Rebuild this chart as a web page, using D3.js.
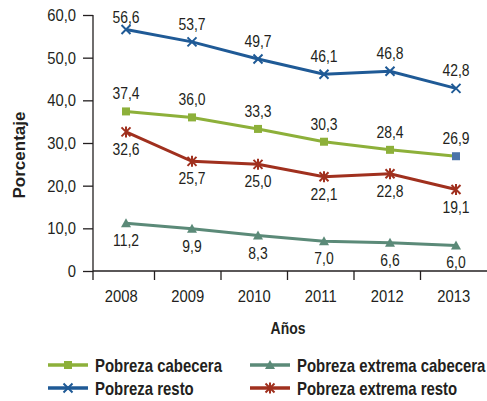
<!DOCTYPE html>
<html>
<head>
<meta charset="utf-8">
<script src="https://cdn.jsdelivr.net/npm/d3@7"></script>
<style>
  body { margin: 0; background: #fff; }
  svg { display: block; font-family: "Liberation Sans", Arial, sans-serif; }
</style>
</head>
<body>
<svg id="chart" width="487" height="401"></svg>
<script>
// data
var years = ["2008", "2009", "2010", "2011", "2012", "2013"];
var pobrezaCabecera = [37.4, 36.0, 33.3, 30.3, 28.4, 26.9];
var pobrezaResto = [56.6, 53.7, 49.7, 46.1, 46.8, 42.8];
var extremaCabecera = [11.2, 9.9, 8.3, 7.0, 6.6, 6.0];
var extremaResto = [32.6, 25.7, 25.0, 22.1, 22.8, 19.1];
var yTicks = [0, 10, 20, 30, 40, 50, 60];

var series = [
    { name: "Pobreza cabecera", values: pobrezaCabecera, color: "#8db03a", marker: "square", label: "above", col: 0, row: 0 },
    { name: "Pobreza extrema cabecera", values: extremaCabecera, color: "#5b8a78", marker: "triangle", label: "below", col: 1, row: 0 },
    { name: "Pobreza resto", values: pobrezaResto, color: "#1f5a96", marker: "cross", label: "above", col: 0, row: 1 },
    { name: "Pobreza extrema resto", values: extremaResto, color: "#a0301e", marker: "asterisk", label: "below", col: 1, row: 1 }
];

var svg = d3.select("#chart");
var textColor = "#231f20";
var fmt = function(v) { return v === 0 ? "0" : d3.format(".1f")(v).replace(".", ","); };

// no narrow font installed, so squeeze the text horizontally
function addText(parent, x, y, str, size, opts) {
    opts = opts || {};
    var sx = opts.sx || 0.87;
    return parent.append("text")
        .attr("transform", "translate(" + x + "," + y + ") scale(" + sx + ",1)")
        .attr("text-anchor", opts.anchor || "middle")
        .attr("font-size", size)
        .attr("font-weight", opts.bold ? "bold" : "normal")
        .attr("fill", textColor)
        .text(str);
}

// band scale for the axis, point scale for the marks
var xBand = d3.scaleBand().domain(years).range([88, 487]);
var x = d3.scalePoint().domain(years).range([126, 456]);
var y = d3.scaleLinear().domain([0, 60]).range([271, 15]);

// y axis
var yAxis = svg.append("g")
    .attr("transform", "translate(93,0)")
    .call(d3.axisLeft(y).tickValues(yTicks).tickFormat("").tickSize(10));
yAxis.select(".domain").attr("stroke", textColor).attr("stroke-width", 1.3).attr("d", "M0,15V271");
yAxis.selectAll(".tick line").attr("stroke", textColor).attr("stroke-width", 1.3);
yTicks.forEach(function(t) {
    addText(svg, 76, y(t) + 6, fmt(t), 17, { anchor: "end" });
});

// x axis line and ticks on band edges
svg.append("line")
    .attr("x1", 93).attr("x2", 487).attr("y1", 271).attr("y2", 271)
    .attr("stroke", textColor).attr("stroke-width", 1.3);
var edges = [93].concat(years.slice(1).map(function(d) { return xBand(d); }));
svg.selectAll(".xtick").data(edges).enter().append("line")
    .attr("x1", function(d) { return d; }).attr("x2", function(d) { return d; })
    .attr("y1", 271).attr("y2", 280)
    .attr("stroke", textColor).attr("stroke-width", 1.3);
years.forEach(function(d) {
    addText(svg, xBand(d) + xBand.bandwidth() / 2, 302, d, 17);
});

// axis titles
svg.append("text")
    .attr("transform", "translate(25,155) rotate(-90)")
    .attr("text-anchor", "middle")
    .attr("font-size", 17).attr("font-weight", "bold")
    .attr("fill", textColor)
    .text("Porcentaje");
addText(svg, 288, 334, "Años", 16, { bold: true });

function drawMarker(g, type, color) {
    if (type === "square") {
        g.append("rect").attr("x", -4).attr("y", -4).attr("width", 8).attr("height", 8).attr("fill", color);
    } else if (type === "triangle") {
        g.append("path").attr("d", "M0,-5L5,4L-5,4Z").attr("fill", color);
    } else if (type === "cross") {
        g.append("path").attr("d", "M-4.5,-4.5L4.5,4.5M-4.5,4.5L4.5,-4.5").attr("stroke", color).attr("stroke-width", 2);
    } else {
        g.append("path").attr("d", "M-4.5,-4.5L4.5,4.5M-4.5,4.5L4.5,-4.5M0,-5.5V5.5").attr("stroke", color).attr("stroke-width", 2);
    }
}

var line = d3.line()
    .x(function(d, i) { return x(years[i]); })
    .y(function(d) { return y(d); });

series.forEach(function(s) {
    svg.append("path")
        .datum(s.values)
        .attr("fill", "none")
        .attr("stroke", s.color)
        .attr("stroke-width", 3)
        .attr("d", line);
    s.values.forEach(function(v, i) {
        var g = svg.append("g").attr("transform", "translate(" + x(years[i]) + "," + y(v) + ")");
        // last green point is drawn in blue in the original
        var c = (s.marker === "square" && i === years.length - 1) ? "#4a74a8" : s.color;
        drawMarker(g, s.marker, c);
    });
    s.values.forEach(function(v, i) {
        var off = s.label === "above" ? -12 : 23;
        addText(svg, x(years[i]), Math.max(y(v) + off, 23), fmt(v), 16);
    });
});

// legend
var legend = svg.append("g");
series.forEach(function(s) {
    var lx = 48 + s.col * 202, ly = 365 + s.row * 23;
    var g = legend.append("g").attr("transform", "translate(" + lx + "," + ly + ")");
    g.append("line").attr("x1", 0).attr("x2", 40).attr("y1", 0).attr("y2", 0)
        .attr("stroke", s.color).attr("stroke-width", 3.5);
    drawMarker(g.append("g").attr("transform", "translate(20,0)"), s.marker, s.color);
    addText(g, 47, 7, s.name, 18, { bold: true, anchor: "start", sx: 0.83 });
});
</script>
</body>
</html>
